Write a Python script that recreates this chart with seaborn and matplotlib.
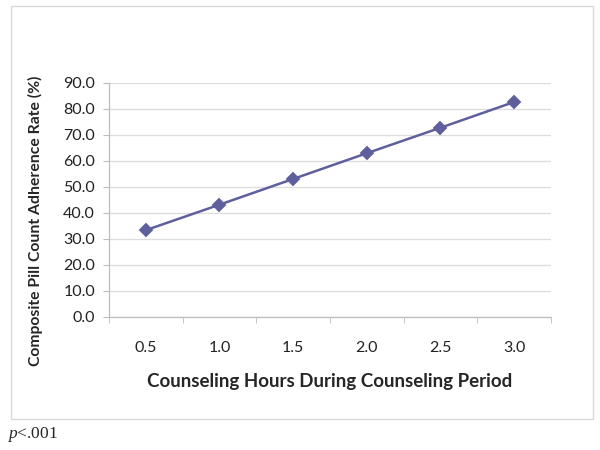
import numpy as np
import pandas as pd
import matplotlib
matplotlib.use("Agg")
import matplotlib.pyplot as plt
from matplotlib.patches import Rectangle
import seaborn as sns

# data
hours = ["0.5", "1.0", "1.5", "2.0", "2.5", "3.0"]
adherence = [33.4, 43.2, 53.1, 63.0, 72.8, 82.7]
y_ticks = [0, 10, 20, 30, 40, 50, 60, 70, 80, 90]

df = pd.DataFrame({"hours": hours, "adherence": adherence})

sns.set_style("white")
plt.rcParams["font.family"] = ["Lato", "DejaVu Sans"]
plt.rcParams["mathtext.fontset"] = "custom"
plt.rcParams["mathtext.it"] = "Liberation Serif:italic"
plt.rcParams["mathtext.rm"] = "Liberation Serif"

fig = plt.figure(figsize=(6, 4.5), dpi=100)
ax = fig.add_axes([109 / 600, 1 - 317 / 450, 442 / 600, 234 / 450])

line_color = "#5F5F9E"
sns.pointplot(data=df, x="hours", y="adherence", color=line_color,
              markers="D", linestyles="-", markersize=6.5, linewidth=1.8, ax=ax)

ax.set_xlim(-0.5, len(hours) - 0.5)
ax.set_ylim(0, 90)
ax.set_yticks(y_ticks)
ax.set_yticklabels([f"{v:.1f}" for v in y_ticks], fontsize=11.5, color="#222222")
ax.set_xticks(range(len(hours)))
ax.set_xticklabels(hours, fontsize=11.5, color="#222222")
ax.set_xticks(np.arange(-0.5, len(hours)), minor=True)

ax.grid(axis="y", color="#DCDCDC", linewidth=0.9)
ax.set_axisbelow(True)
for side in ["top", "right"]:
    ax.spines[side].set_visible(False)
for side in ["left", "bottom"]:
    ax.spines[side].set_color("#BDBDBD")
    ax.spines[side].set_linewidth(0.9)

ax.tick_params(axis="y", which="major", left=True, length=4, color="#BDBDBD", pad=6)
ax.tick_params(axis="x", which="major", bottom=False, pad=14)
ax.tick_params(axis="x", which="minor", bottom=True, length=4, color="#BDBDBD")

ax.set_xlabel("Counseling Hours During Counseling Period", fontsize=13.5,
              fontweight="bold", labelpad=13)
ax.set_ylabel("Composite Pill Count Adherence Rate (%)", fontsize=11.3,
              fontweight="bold")
# Excel places the axis title a bit below the plot centre
ax.yaxis.set_label_coords(-0.149, 0.41)

# light frame around the chart area
fig.patches.append(Rectangle((11 / 600, 1 - 419 / 450), 582 / 600, 413 / 450,
                             transform=fig.transFigure, fill=False,
                             edgecolor="#D9D9D9", linewidth=1.0))

fig.text(7 / 600, 1 - 435 / 450, r"$\mathit{p}$<.001", fontsize=12.5,
         family="Liberation Serif", va="center", ha="left")

fig.savefig("out.png", dpi=100)
